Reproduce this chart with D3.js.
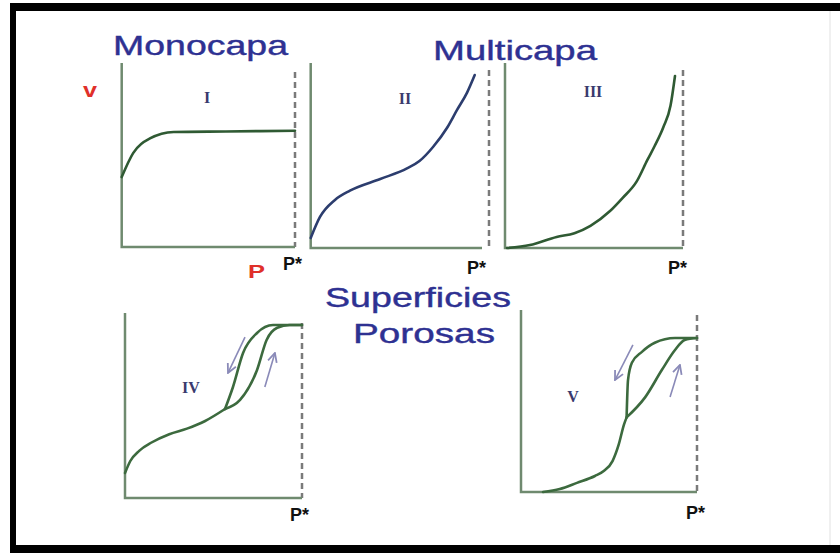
<!DOCTYPE html>
<html>
<head>
<meta charset="utf-8">
<script src="https://cdn.jsdelivr.net/npm/d3@7"></script>
<style>
  body { margin: 0; background: #fff; }
  svg { display: block; }
</style>
</head>
<body>
<svg id="chart"></svg>
<script>
const WIDTH = 840;
const HEIGHT = 553;

// isotherm types (roman labels)
const types = ["I", "II", "III", "IV", "V"];

// curves in relative units: x = P/P*, y = v (0..1 of axis height)
const curveI = [[0, 0.38], [0.066, 0.51], [0.163, 0.59], [0.3, 0.625], [0.6, 0.628], [1, 0.632]];
const curveII = [[0, 0.054], [0.052, 0.168], [0.136, 0.26], [0.22, 0.31], [0.39, 0.373], [0.54, 0.43],
  [0.61, 0.47], [0.686, 0.546], [0.765, 0.65], [0.82, 0.745], [0.877, 0.84], [0.92, 0.935]];
const curveIII = [[0.011, 0], [0.14, 0.016], [0.29, 0.06], [0.39, 0.08], [0.48, 0.12], [0.59, 0.2],
  [0.66, 0.27], [0.74, 0.36], [0.8, 0.476], [0.84, 0.55], [0.89, 0.654], [0.93, 0.77], [0.955, 0.93]];
const curveIVbase = [[0, 0.135], [0.03, 0.2], [0.08, 0.255], [0.15, 0.3], [0.25, 0.345], [0.35, 0.375],
  [0.45, 0.415], [0.565, 0.481]];
const curveIVdes = [[0.565, 0.481], [0.61, 0.6], [0.667, 0.784], [0.746, 0.892], [0.836, 0.935], [1, 0.935]];
const curveIVads = [[0.565, 0.481], [0.65, 0.53], [0.746, 0.692], [0.8, 0.854], [0.86, 0.92], [0.93, 0.935], [1, 0.935]];
const curveVbase = [[0.125, 0], [0.22, 0.016], [0.318, 0.05], [0.42, 0.088], [0.47, 0.115], [0.52, 0.17],
  [0.555, 0.26], [0.585, 0.37], [0.6, 0.41]];
const curveVdes = [[0.6, 0.41], [0.608, 0.615], [0.63, 0.71], [0.687, 0.77], [0.76, 0.82], [0.875, 0.846], [1, 0.846]];
const curveVads = [[0.6, 0.41], [0.705, 0.52], [0.8, 0.67], [0.875, 0.78], [0.93, 0.835], [1, 0.846]];

// hysteresis arrows [from, to]
const arrowsIV = [[[0.678, 0.87], [0.582, 0.676]], [[0.79, 0.6], [0.847, 0.784]]];
const arrowsV = [[[0.636, 0.808], [0.534, 0.615]], [[0.847, 0.522], [0.903, 0.698]]];

const panels = [
  { id: "I",   x0: 121.7, xd: 295, axisEnd: 295, y0: 247, top: 63, dashTop: 72,
    curves: [curveI], color: "#2f5a33", arrows: [], label: [207, 103], star: [283, 270] },
  { id: "II",  x0: 310.7, xd: 489, axisEnd: 482, y0: 248, top: 63, dashTop: 70,
    curves: [curveII], color: "#2c3d6e", arrows: [], label: [405, 104], star: [467, 274] },
  { id: "III", x0: 505, xd: 683, axisEnd: 683, y0: 248, top: 63, dashTop: 70,
    curves: [curveIII], color: "#2f5a33", arrows: [], label: [593, 97], star: [668, 274] },
  { id: "IV",  x0: 125, xd: 302, axisEnd: 302, y0: 498, top: 313, dashTop: 323,
    curves: [curveIVbase, curveIVdes, curveIVads], color: "#3c6a3e", arrows: arrowsIV, label: [191, 393], star: [290, 521] },
  { id: "V",   x0: 521, xd: 697, axisEnd: 697, y0: 492, top: 310, dashTop: 315,
    curves: [curveVbase, curveVdes, curveVads], color: "#3c6a3e", arrows: arrowsV, label: [573, 402], star: [686, 519] }
];

const svg = d3.select("#chart").attr("width", WIDTH).attr("height", HEIGHT);

svg.append("rect").attr("width", WIDTH).attr("height", HEIGHT).attr("fill", "#fff");

// frame
svg.append("rect").attr("x", 10).attr("y", 3).attr("width", WIDTH - 10).attr("height", 8).attr("fill", "#000");
svg.append("rect").attr("x", 10).attr("y", 3).attr("width", 6).attr("height", HEIGHT - 3).attr("fill", "#000");
svg.append("rect").attr("x", 10).attr("y", 545).attr("width", WIDTH - 10).attr("height", 8).attr("fill", "#000");
svg.append("line").attr("x1", 830).attr("x2", 830).attr("y1", 11).attr("y2", 545)
  .attr("stroke", "#f0f0f0").attr("stroke-width", 2);

const defs = svg.append("defs");
defs.append("marker").attr("id", "head")
  .attr("viewBox", "0 0 10 10").attr("refX", 9).attr("refY", 5)
  .attr("markerWidth", 7).attr("markerHeight", 7).attr("orient", "auto")
  .append("path").attr("d", "M1,1 L9,5 L1,9").attr("fill", "none")
  .attr("stroke", "#8a8ab8").attr("stroke-width", 1.6);

// headings
function stretchText(txt, x, y, len, size, color) {
  svg.append("text").attr("x", x).attr("y", y)
    .attr("textLength", len).attr("lengthAdjust", "spacingAndGlyphs")
    .attr("font-family", "Liberation Sans, Arial, sans-serif")
    .attr("font-size", size).attr("fill", color)
    .attr("stroke", color).attr("stroke-width", 0.4).text(txt);
}
stretchText("Monocapa", 113, 55, 175, 28, "#2e3192");
stretchText("Multicapa", 433, 60, 164, 28, "#2e3192");
stretchText("Superficies", 325, 307, 186, 28, "#2e3192");
stretchText("Porosas", 353, 343, 142, 28, "#2e3192");

// axis labels
svg.append("text").attr("x", 83).attr("y", 97).attr("textLength", 14).attr("lengthAdjust", "spacingAndGlyphs")
  .attr("font-family", "Liberation Sans, Arial, sans-serif").attr("font-weight", "bold")
  .attr("font-size", 20).attr("fill", "#e0302a").text("v");
svg.append("text").attr("x", 248).attr("y", 278).attr("textLength", 17).attr("lengthAdjust", "spacingAndGlyphs")
  .attr("font-family", "Liberation Sans, Arial, sans-serif").attr("font-weight", "bold")
  .attr("font-size", 18).attr("fill", "#e0302a").text("P");

const line = d3.line().curve(d3.curveMonotoneX);

panels.forEach((p, i) => {
  const x = d3.scaleLinear().domain([0, 1]).range([p.x0, p.xd]);
  const y = d3.scaleLinear().domain([0, 1]).range([p.y0, p.top]);
  const g = svg.append("g");

  // dashed P* line
  g.append("line").attr("x1", p.xd).attr("x2", p.xd).attr("y1", p.dashTop).attr("y2", p.y0)
    .attr("stroke", "#7a7a7a").attr("stroke-width", 2.5).attr("stroke-dasharray", "6,4");

  // axes
  g.append("path")
    .attr("d", `M${x(0)},${y(1)} V${y(0)} H${p.axisEnd}`)
    .attr("fill", "none").attr("stroke", "#6f8a6f").attr("stroke-width", 2.5);

  // curves
  g.selectAll("path.curve").data(p.curves).enter().append("path")
    .attr("class", "curve")
    .attr("d", d => line(d.map(q => [x(q[0]), y(q[1])])))
    .attr("fill", "none").attr("stroke", p.color).attr("stroke-width", 2.6)
    .attr("stroke-linecap", "round");

  // arrows
  g.selectAll("line.arrow").data(p.arrows).enter().append("line")
    .attr("class", "arrow")
    .attr("x1", d => x(d[0][0])).attr("y1", d => y(d[0][1]))
    .attr("x2", d => x(d[1][0])).attr("y2", d => y(d[1][1]))
    .attr("stroke", "#8a8ab8").attr("stroke-width", 1.6)
    .attr("marker-end", "url(#head)");

  // roman label
  g.append("text").attr("x", p.label[0]).attr("y", p.label[1])
    .attr("text-anchor", "middle")
    .attr("font-family", "Liberation Serif, Times New Roman, serif")
    .attr("font-weight", "bold").attr("font-size", 16).attr("fill", "#3a3a6e")
    .text(types[i]);

  // P* label
  g.append("text").attr("x", p.star[0]).attr("y", p.star[1])
    .attr("font-family", "Liberation Sans, Arial, sans-serif").attr("font-weight", "bold")
    .attr("font-size", 18).attr("fill", "#111")
    .text("P*");
});
</script>
</body>
</html>
